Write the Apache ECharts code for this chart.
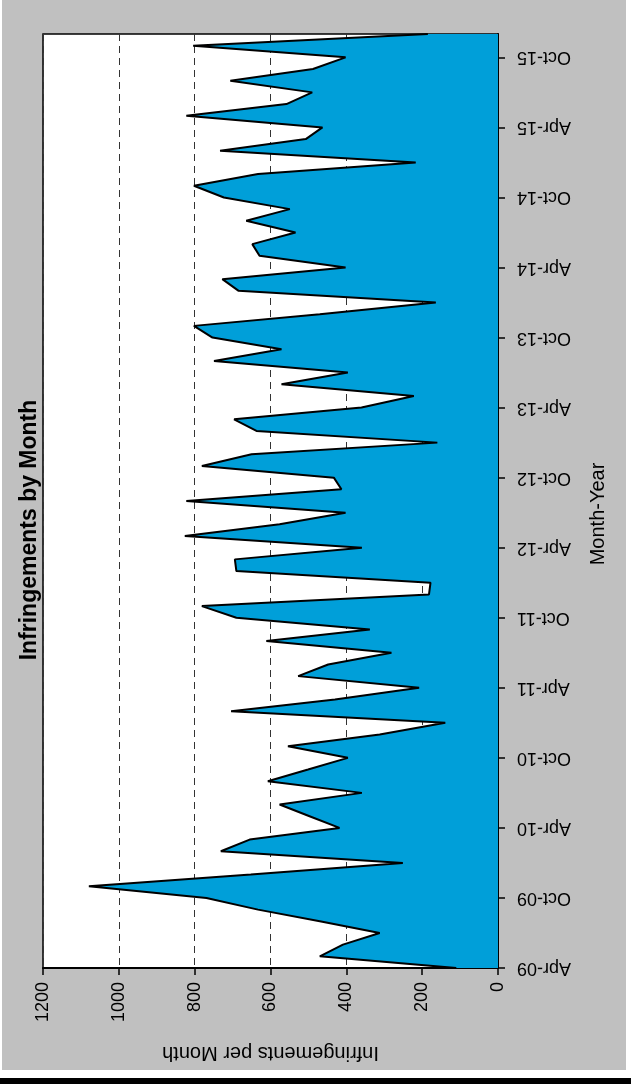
<!DOCTYPE html>
<html>
<head>
<meta charset="utf-8">
<script src="https://cdn.jsdelivr.net/npm/echarts@6/dist/echarts.min.js"></script>
<style>
html,body{margin:0;padding:0;background:#fff;}
#chart{width:631px;height:1090px;}
</style>
</head>
<body>
<div id="chart"></div>
<script>
const categories = [
  'Apr-09','May-09','Jun-09','Jul-09','Aug-09','Sep-09','Oct-09','Nov-09','Dec-09',
  'Jan-10','Feb-10','Mar-10','Apr-10','May-10','Jun-10','Jul-10','Aug-10','Sep-10','Oct-10','Nov-10','Dec-10',
  'Jan-11','Feb-11','Mar-11','Apr-11','May-11','Jun-11','Jul-11','Aug-11','Sep-11','Oct-11','Nov-11','Dec-11',
  'Jan-12','Feb-12','Mar-12','Apr-12','May-12','Jun-12','Jul-12','Aug-12','Sep-12','Oct-12','Nov-12','Dec-12',
  'Jan-13','Feb-13','Mar-13','Apr-13','May-13','Jun-13','Jul-13','Aug-13','Sep-13','Oct-13','Nov-13','Dec-13',
  'Jan-14','Feb-14','Mar-14','Apr-14','May-14','Jun-14','Jul-14','Aug-14','Sep-14','Oct-14','Nov-14','Dec-14',
  'Jan-15','Feb-15','Mar-15','Apr-15','May-15','Jun-15','Jul-15','Aug-15','Sep-15','Oct-15','Nov-15','Dec-15'
];
const infringements = [
  110, 470, 409, 312, 470, 633, 769, 1079, 652,
  251, 731, 655, 418, 497, 576, 359, 607, 501, 396, 554, 312,
  139, 704, 430, 208, 527, 448, 281, 611, 338, 690, 781, 182,
  178, 690, 694, 359, 826, 576, 402, 822, 413, 433, 781, 650,
  160, 637, 696, 360, 222, 571, 396, 749, 571, 753, 802, 470,
  164, 684, 727, 402, 629, 648, 534, 664, 549, 723, 802, 633,
  217, 733, 507, 463, 822, 558, 490, 706, 488, 402, 804, 185
];
const valueTicks = [0, 200, 400, 600, 800, 1000, 1200];
const titleText = 'Infringements by Month';
const valueAxisName = 'Infringements per Month';
const categoryAxisName = 'Month-Year';

const FONT = 'Liberation Sans, Arial, sans-serif';
const chart = echarts.init(document.getElementById('chart'), null, {renderer: 'canvas'});
chart.setOption({
  animation: false,
  backgroundColor: '#ffffff',
  graphic: [
    {type: 'rect', z: -10, shape: {x: 2, y: 0, width: 624, height: 1070}, style: {fill: '#c0c0c0'}},
    {type: 'rect', z: -10, shape: {x: 0, y: 1078, width: 631, height: 6}, style: {fill: '#000000'}},
    {type: 'text', x: 30, y: 530, rotation: Math.PI / 2,
     style: {text: titleText, font: 'bold 23px ' + FONT, fill: '#000', align: 'center', verticalAlign: 'middle'}}
  ],
  grid: {
    left: 43, top: 34, width: 455, height: 934,
    show: true, backgroundColor: '#ffffff', borderColor: '#000000', borderWidth: 1.5
  },
  xAxis: {
    type: 'value', inverse: true, min: valueTicks[0], max: valueTicks[valueTicks.length - 1], interval: 200,
    position: 'bottom',
    name: valueAxisName, nameLocation: 'middle', nameGap: 75, nameRotate: 180,
    nameTextStyle: {fontFamily: FONT, fontSize: 20, color: '#000'},
    axisLine: {show: true, lineStyle: {color: '#000', width: 2}},
    axisTick: {show: true, length: 7, lineStyle: {color: '#000', width: 1.5}},
    axisLabel: {rotate: 90, margin: 14, fontFamily: FONT, fontSize: 18, color: '#000',
                formatter: function (v) { return String(v); }},
    splitLine: {show: true, lineStyle: {color: '#333', width: 1, type: [7, 5]}}
  },
  yAxis: {
    type: 'category', data: categories, boundaryGap: false, position: 'right',
    name: categoryAxisName, nameLocation: 'middle', nameGap: 90, nameRotate: 90,
    nameTextStyle: {fontFamily: FONT, fontSize: 20, color: '#000', padding: [0, 26, 0, 0]},
    axisLine: {show: true, lineStyle: {color: '#000', width: 2}},
    axisTick: {show: true, interval: 5, length: 7, lineStyle: {color: '#000', width: 1.5}},
    axisLabel: {interval: 5, rotate: 180, margin: 19, fontFamily: FONT, fontSize: 18, color: '#000'},
    splitLine: {show: false}
  },
  series: [{
    type: 'line', data: infringements, symbol: 'none',
    lineStyle: {color: '#000', width: 2},
    areaStyle: {color: '#009fd9', opacity: 1}
  }]
});
</script>
</body>
</html>
